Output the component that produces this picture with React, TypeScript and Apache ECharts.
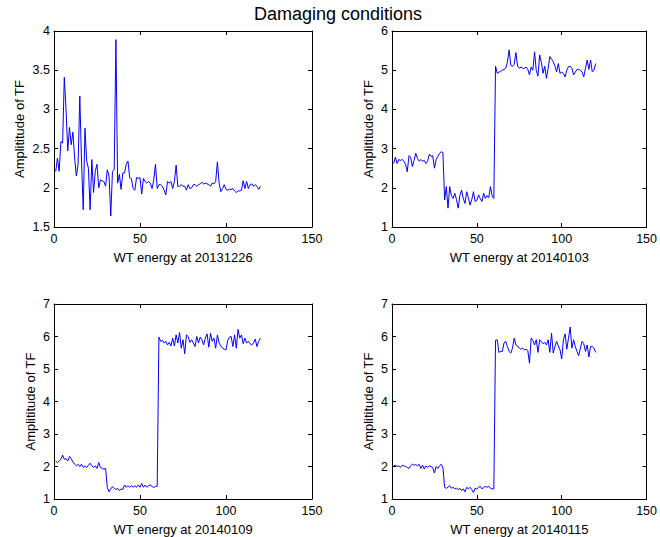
import React, { useEffect, useRef } from "react";
import * as echarts from "echarts";

const titleText = "Damaging conditions";
const yLabel = "Amplititude of TF";
const xLabels = [
  "WT energy at 20131226",
  "WT energy at 20140103",
  "WT energy at 20140109",
  "WT energy at 20140115",
];

const s20131226 = [
  2.21, 2.38, 2.21, 2.59, 2.57, 3.41, 3.0, 2.47, 2.77, 2.55,
  2.71, 2.38, 2.15, 2.3, 3.17, 2.34, 1.72, 2.76, 2.34, 2.25,
  1.72, 2.36, 1.94, 2.21, 2.3, 2.0, 2.1, 2.09, 2.08, 2.02,
  2.23, 2.15, 1.64, 2.21, 2.23, 3.89, 2.06, 2.17, 1.98, 2.19,
  2.19, 2.3, 2.34, 2.13, 2.12, 1.99, 1.97, 2.13, 2.12, 2.13,
  1.92, 2.12, 2.08, 2.06, 2.08, 2.06, 1.99, 2.1, 2.3, 1.99,
  2.04, 2.04, 2.02, 1.97, 1.91, 2.08, 2.06, 2.08, 1.99, 2.08,
  2.29, 2.02, 2.02, 2.04, 2.02, 2.02, 1.97, 2.04, 1.99, 2.0,
  2.04, 2.04, 2.02, 2.04, 2.05, 2.07, 2.05, 2.06, 2.05, 2.04,
  2.02, 2.06, 2.05, 2.08, 2.33, 2.06, 1.95, 1.99, 2.04, 1.98,
  1.97, 1.98, 1.98, 1.99, 1.96, 1.94, 1.96, 1.96, 1.97, 2.09,
  1.99, 2.08, 1.99, 2.04, 2.05, 2.02, 2.04, 2.02, 1.98, 2.02,
];

const s20140103 = [
  2.62, 2.78, 2.62, 2.72, 2.7, 2.72, 2.68, 2.6, 2.41, 2.82,
  2.78, 2.54, 2.7, 2.88, 2.75, 2.68, 2.72, 2.68, 2.7, 2.62,
  2.68, 2.86, 2.8, 2.82, 2.5, 2.72, 2.8, 2.88, 2.92, 2.9,
  1.69, 2.03, 1.48, 2.03, 1.8, 1.73, 1.86, 1.7, 1.48, 1.8,
  1.94, 1.73, 1.6, 1.9, 1.75, 1.56, 1.7, 1.9, 1.65, 1.68,
  1.82, 1.72, 1.65, 1.86, 1.73, 1.8, 1.75, 2.03, 1.8, 1.73,
  5.1, 4.92, 4.95, 4.97, 5.0, 5.02, 5.05, 5.2, 5.52, 5.13,
  5.1, 5.15, 5.45, 5.1, 5.05, 5.08, 5.05, 5.05, 5.08, 5.02,
  4.88, 5.08, 5.0, 5.47, 4.99, 4.85, 5.39, 5.2, 4.92, 5.1,
  4.79, 5.05, 5.35, 5.28, 5.22, 5.1, 4.96, 5.17, 4.92, 4.95,
  4.92, 4.83, 5.0, 5.09, 5.1, 5.05, 4.88, 4.95, 5.02, 5.02,
  5.0, 4.95, 4.83, 5.05, 5.26, 5.02, 5.26, 4.96, 5.0, 5.17,
];

const s20140109 = [
  2.17, 2.12, 2.17, 2.22, 2.35, 2.22, 2.24, 2.17, 2.31, 2.24,
  2.14, 2.07, 2.02, 2.07, 2.0, 2.07, 1.97, 2.02, 1.97, 2.04,
  2.1, 2.02, 1.97, 2.02, 1.94, 2.12, 1.97, 1.94, 1.92, 1.94,
  1.36, 1.22, 1.31, 1.38, 1.33, 1.29, 1.33, 1.26, 1.31, 1.29,
  1.43, 1.36, 1.41, 1.36, 1.41, 1.36, 1.41, 1.36, 1.43, 1.36,
  1.48, 1.36, 1.43, 1.36, 1.41, 1.43, 1.39, 1.35, 1.39, 1.39,
  5.98, 5.85, 5.88, 5.8, 5.85, 5.74, 5.82, 5.71, 5.95, 5.71,
  6.05, 5.8, 6.12, 5.64, 5.9, 5.47, 6.05, 6.0, 5.82, 5.9,
  5.8, 5.69, 6.0, 5.8, 5.98, 5.9, 5.74, 5.95, 6.08, 5.67,
  6.1, 5.85, 5.95, 5.64, 6.05, 5.8, 5.71, 5.64, 5.61, 5.59,
  5.88, 5.98, 6.0, 5.69, 6.05, 5.64, 6.22, 5.95, 6.05, 5.78,
  5.95, 5.8, 5.85, 5.78, 5.74, 5.8, 5.92, 5.69, 5.85, 5.95,
];

const s20140115 = [
  2.02, 2.04, 2.0, 2.02, 1.97, 2.04, 2.02, 2.0, 1.97, 1.94,
  2.02, 2.07, 2.04, 2.06, 2.02, 2.07, 1.94, 2.04, 1.92, 2.02,
  1.97, 2.02, 2.0, 1.97, 1.8, 2.0, 1.94, 2.02, 2.07, 1.97,
  1.36, 1.33, 1.36, 1.41, 1.33, 1.36, 1.31, 1.33, 1.29, 1.33,
  1.26, 1.31, 1.22, 1.36, 1.31, 1.36, 1.29, 1.2, 1.33, 1.31,
  1.36, 1.39, 1.31, 1.36, 1.39, 1.36, 1.39, 1.33, 1.31, 1.31,
  5.88, 5.9, 5.51, 5.54, 5.54, 5.8, 5.85, 5.69, 5.54, 5.49,
  5.64, 5.95, 5.74, 5.71, 5.64, 5.61, 5.64, 5.59, 5.61, 5.57,
  5.18, 5.95, 5.88, 5.74, 5.9, 5.51, 5.9, 5.85, 5.78, 5.82,
  5.74, 5.9, 5.51, 6.1, 5.49, 5.69, 5.85, 5.71, 5.59, 5.31,
  5.9, 6.08, 5.61, 5.95, 6.29, 5.64, 5.9, 5.69, 5.54, 5.41,
  5.64, 5.85, 5.78, 5.54, 5.74, 5.37, 5.69, 5.69, 5.64, 5.51,
];

const seriesValues = [s20131226, s20140103, s20140109, s20140115];
const xMin = 0;
const xMax = 150;
const xInterval = 50;
const yRanges = [
  { min: 1.5, max: 4, interval: 0.5 },
  { min: 1, max: 6, interval: 1 },
  { min: 1, max: 7, interval: 1 },
  { min: 1, max: 7, interval: 1 },
];

const FONT = "'Liberation Sans', Arial, Helvetica, sans-serif";

export default function App() {
  const ref = useRef<HTMLDivElement>(null);
  useEffect(() => {
    if (!ref.current) return;
    const chart = echarts.init(ref.current, undefined, { renderer: "svg" });
    const grids = [
      { left: 54, top: 31, width: 258, height: 196 },
      { left: 392, top: 31, width: 258, height: 196 },
      { left: 54, top: 304, width: 258, height: 196 },
      { left: 392, top: 304, width: 258, height: 196 },
    ];
    const yNameGaps = [28, 17, 17, 17];
    const xAxes: any[] = [];
    const yAxes: any[] = [];
    const series: any[] = [];
    const lineStyle = { color: "#000", width: 1 };
    const fmt = (v: number) => String(+v.toFixed(2));
    grids.forEach((g, i) => {
      const yr = yRanges[i];
      xAxes.push({
        type: "value",
        gridIndex: i,
        min: xMin,
        max: xMax,
        interval: xInterval,
        position: "bottom",
        name: xLabels[i],
        nameLocation: "middle",
        nameGap: 24,
        nameTextStyle: { color: "#000", fontFamily: FONT, fontSize: 13 },
        axisLine: { show: true, onZero: false, lineStyle },
        axisTick: { show: true, inside: true, length: 4, lineStyle },
        axisLabel: { color: "#000", fontFamily: FONT, fontSize: 12.5, margin: 5, formatter: fmt },
        splitLine: { show: false },
      });
      xAxes.push({
        type: "value",
        gridIndex: i,
        min: xMin,
        max: xMax,
        interval: xInterval,
        position: "top",
        axisLine: { show: true, onZero: false, lineStyle },
        axisTick: { show: true, inside: true, length: 4, lineStyle },
        axisLabel: { show: false },
        splitLine: { show: false },
      });
      yAxes.push({
        type: "value",
        gridIndex: i,
        min: yr.min,
        max: yr.max,
        interval: yr.interval,
        position: "left",
        name: yLabel,
        nameLocation: "middle",
        nameGap: yNameGaps[i],
        nameTextStyle: { color: "#000", fontFamily: FONT, fontSize: 13 },
        axisLine: { show: true, onZero: false, lineStyle },
        axisTick: { show: true, inside: true, length: 4, lineStyle },
        axisLabel: { color: "#000", fontFamily: FONT, fontSize: 12.5, margin: 4, formatter: fmt },
        splitLine: { show: false },
      });
      yAxes.push({
        type: "value",
        gridIndex: i,
        min: yr.min,
        max: yr.max,
        interval: yr.interval,
        position: "right",
        axisLine: { show: true, onZero: false, lineStyle },
        axisTick: { show: true, inside: true, length: 4, lineStyle },
        axisLabel: { show: false },
        splitLine: { show: false },
      });
      series.push({
        type: "line",
        xAxisIndex: i * 2,
        yAxisIndex: i * 2,
        data: seriesValues[i].map((v, k) => [k + 1, v]),
        showSymbol: false,
        symbol: "none",
        lineStyle: { color: "#0000ff", width: 1 },
        silent: true,
      });
    });
    chart.setOption({
      animation: false,
      backgroundColor: "#fff",
      grid: grids,
      xAxis: xAxes,
      yAxis: yAxes,
      series,
      graphic: [
        {
          type: "text",
          x: 338,
          y: 5,
          style: {
            text: titleText,
            fill: "#000",
            font: `18px ${FONT}`,
            textAlign: "center",
            textVerticalAlign: "top",
          },
        },
      ],
    });
    return () => chart.dispose();
  }, []);
  return (
    <div
      ref={ref}
      style={{ position: "absolute", left: 0, top: 0, width: 660, height: 537 }}
    />
  );
}
